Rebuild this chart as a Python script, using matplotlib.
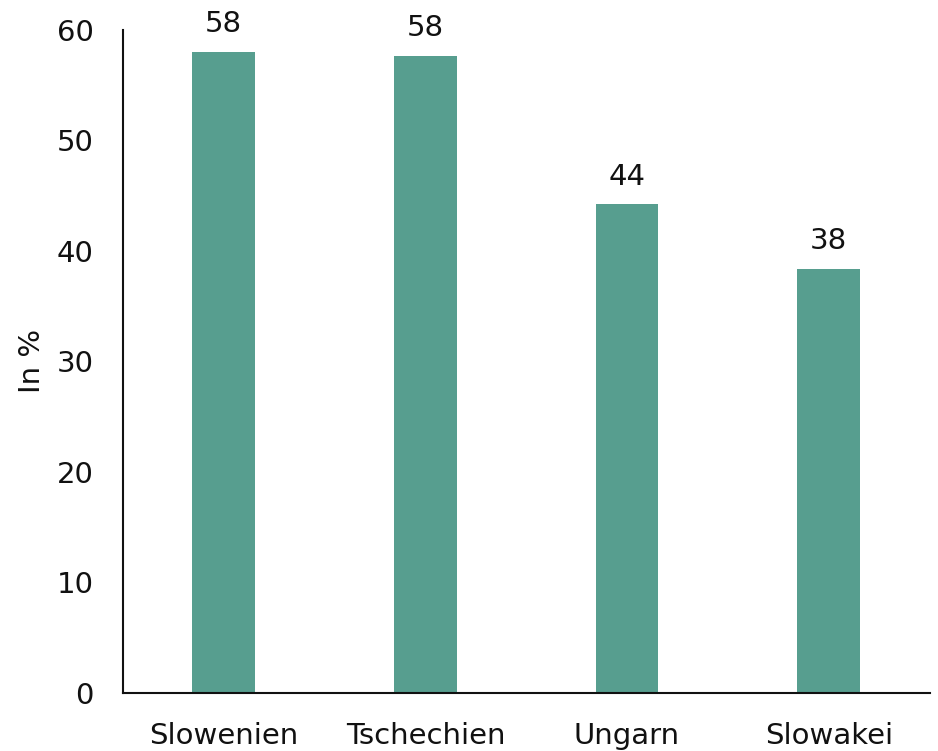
import matplotlib
matplotlib.use('Agg')
import matplotlib.pyplot as plt

# data
countries = ['Slowenien', 'Tschechien', 'Ungarn', 'Slowakei']
shares = [58.0, 57.6, 44.2, 38.4]
y_ticks = [0, 10, 20, 30, 40, 50, 60]

plt.rcParams['font.family'] = ['DejaVu Sans']

fig = plt.figure(figsize=(9.38, 7.51), dpi=100)
ax = fig.add_axes([0.131, 0.0773, 0.86, 0.883])

x = list(range(len(countries)))
bars = ax.bar(x, shares, width=0.31, color='#579e8f')

# value labels, rounded like the original
for rect, val in zip(bars, shares):
    ax.annotate(f'{round(val)}', (rect.get_x() + rect.get_width() / 2, rect.get_height()),
                xytext=(0, 10), textcoords='offset points', ha='center', va='bottom',
                fontsize=21, color='#111111')

ax.set_xlim(-0.5, 3.5)
ax.set_ylim(0, 60)
ax.set_xticks(x)
ax.set_xticklabels(countries)
ax.set_yticks(y_ticks)
ax.tick_params(axis='both', length=0, labelsize=21, colors='#111111')
ax.tick_params(axis='y', pad=21)
ax.tick_params(axis='x', pad=21)
ax.set_ylabel('In %', fontsize=21, color='#111111', labelpad=8)

for side in ['top', 'right']:
    ax.spines[side].set_visible(False)
for side in ['left', 'bottom']:
    ax.spines[side].set_linewidth(1.5)
    ax.spines[side].set_color('#111111')

fig.savefig('out.png', dpi=100)
